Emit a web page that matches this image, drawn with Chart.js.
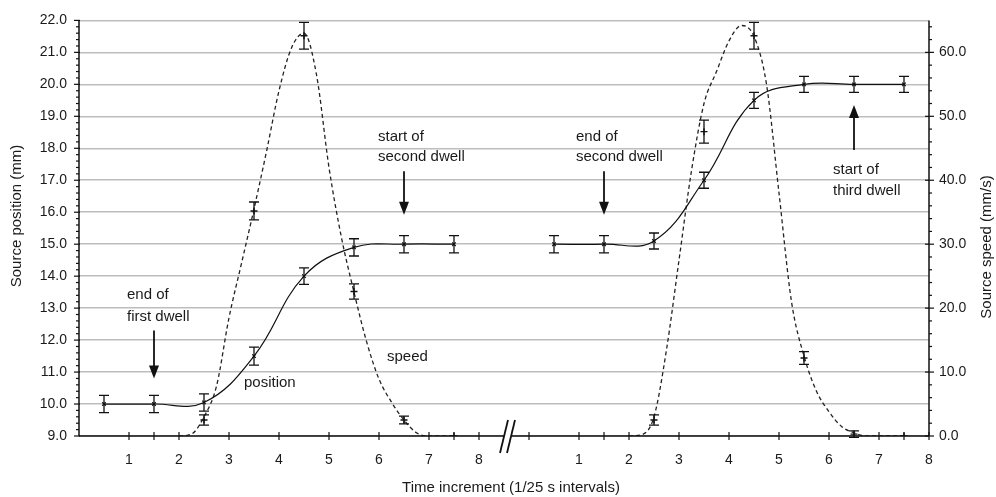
<!DOCTYPE html>
<html lang="en">
<head>
    <meta charset="UTF-8">
    <title>Source position and speed</title>
    <script src="https://cdn.jsdelivr.net/npm/chart.js"></script>
    <style>
        html, body { margin: 0; padding: 0; background: #fff; }
        .chart-box { width: 996px; height: 497px; position: relative; }
    </style>
</head>
<body>
    <div class="chart-box">
        <canvas id="dwellChart"></canvas>
    </div>

    <script>
        // time increments (1/25 s) where the measurements with error bars sit
        const markX = [0.5, 1.5, 2.5, 3.5, 4.5, 5.5, 6.5, 7.5];
        // source position (mm), first and second transit
        const posFirst = [10.0, 10.0, 10.05, 11.5, 14.0, 14.9, 15.0, 15.0];
        const posSecond = [15.0, 15.0, 15.1, 17.0, 19.5, 20.0, 20.0, 20.0];
        const posErrFirst = [0.27, 0.27, 0.27, 0.28, 0.26, 0.27, 0.27, 0.27];
        const posErrSecond = [0.27, 0.27, 0.25, 0.25, 0.25, 0.25, 0.25, 0.25];

        // measured speed (mm/s) with error bars
        const speedMarkX = [2.5, 3.5, 4.5, 5.5, 6.5, 7.5];
        const speedMarkFirst = [2.5, 35.2, 62.6, 22.6, 2.5, 0];
        const speedMarkSecond = [2.5, 47.6, 62.6, 12.2, 0.3, 0];
        const speedErrFirst = [0.8, 1.4, 2.1, 1.2, 0.6, 0];
        const speedErrSecond = [0.8, 1.8, 2.1, 1.0, 0.5, 0];

        // dashed speed curve
        const curveX = [2.0, 2.25, 2.5, 2.75, 3.0, 3.25, 3.5, 3.75, 4.0, 4.25, 4.5, 4.75,
                        5.0, 5.25, 5.5, 5.75, 6.0, 6.25, 6.5, 6.75, 7.0, 7.25, 7.5];
        const speedCurveFirst = [0, 0.3, 3, 7.8, 18.5, 27, 35.5, 44.5, 54, 60.7, 63, 56.5,
                                 42, 31, 22.5, 14.8, 8.9, 5.3, 2.5, 0.5, 0, 0, 0];
        const speedCurveSecond = [0, 0.2, 3, 13.5, 27.5, 41.5, 52, 57, 61.8, 64.2, 62.5, 55,
                                  38, 21, 12.5, 7, 3.8, 1.5, 0.5, 0, 0, 0, 0];

        const xTickLabels = ['1', '2', '3', '4', '5', '6', '7', '8'];

        const panelShift = 9;   // second transit is drawn after the axis break
        const breakAt = 8.5;

        function pts(xs, ys, shift) {
            return xs.map((x, i) => ({ x: x + shift, y: ys[i] }));
        }
        const gap = [{ x: breakAt, y: null }];

        const FONT = "'Liberation Sans', Arial, sans-serif";
        Chart.defaults.font.family = FONT;
        Chart.defaults.font.size = 14;
        Chart.defaults.color = '#1a1a1a';

        function xLabel(v) {
            if (v >= 1 && v <= 8) return xTickLabels[v - 1];
            if (v >= 10 && v <= 17) return xTickLabels[v - 10];
            return '';
        }

        const errorBarPlugin = {
            id: 'errorBars',
            afterDatasetsDraw(chart) {
                const ctx = chart.ctx;
                chart.data.datasets.forEach((ds, di) => {
                    if (!ds.errorBars) return;
                    const meta = chart.getDatasetMeta(di);
                    const yScale = chart.scales[ds.yAxisID];
                    ctx.save();
                    ctx.strokeStyle = '#111';
                    ctx.lineWidth = 1.3;
                    meta.data.forEach((pt, i) => {
                        const err = ds.errorBars[i];
                        const v = ds.data[i].y;
                        if (!err || v === null) return;
                        const top = yScale.getPixelForValue(v + err);
                        const bot = yScale.getPixelForValue(v - err);
                        ctx.beginPath();
                        ctx.moveTo(pt.x, top); ctx.lineTo(pt.x, bot);
                        ctx.moveTo(pt.x - 5, top); ctx.lineTo(pt.x + 5, top);
                        ctx.moveTo(pt.x - 5, bot); ctx.lineTo(pt.x + 5, bot);
                        ctx.stroke();
                    });
                    ctx.restore();
                });
            }
        };

        // notes with arrows, placed in data units (x, left axis)
        const notes = [
            { x: 1.5, dx: -27, lines: ['end of', 'first dwell'], textY: [13.4, 12.72], arrow: [12.3, 10.8] },
            { x: 6.5, dx: -26, lines: ['start of', 'second dwell'], textY: [18.37, 17.72], arrow: [17.28, 15.92] },
            { x: 10.5, dx: -28, lines: ['end of', 'second dwell'], textY: [18.37, 17.72], arrow: [17.28, 15.92] },
            { x: 15.5, dx: -21, lines: ['start of', 'third dwell'], textY: [17.34, 16.66], arrow: [17.95, 19.35] }
        ];

        const decorPlugin = {
            id: 'axesDecor',
            afterDraw(chart) {
                const ctx = chart.ctx;
                const { left, right, top, bottom } = chart.chartArea;
                const xs = chart.scales.x, yl = chart.scales.y, yr = chart.scales.y2;
                const seg = (x1, y1, x2, y2) => { ctx.beginPath(); ctx.moveTo(x1, y1); ctx.lineTo(x2, y2); ctx.stroke(); };

                ctx.save();
                ctx.strokeStyle = '#111';
                ctx.lineWidth = 1.5;
                seg(left, top, left, bottom);
                seg(right, top, right, bottom);
                seg(left, bottom, right, bottom);

                // left axis ticks
                ctx.lineWidth = 1.2;
                for (let k = 0; k <= 65; k++) {
                    const py = yl.getPixelForValue(9 + k / 5);
                    if (k % 5 === 0) seg(left - 5, py, left + 1, py);
                    else seg(left - 3, py, left, py);
                }
                // right axis ticks
                for (let v = 0; v <= 64; v += 2) {
                    const py = yr.getPixelForValue(v);
                    if (v % 10 === 0) seg(right - 4, py, right + 5, py);
                    else seg(right, py, right + 3, py);
                }
                // x ticks crossing the axis
                const tickSpots = [1, 1.5, 2, 3, 4, 5, 6, 7, 7.5, 8];
                tickSpots.concat([0], tickSpots).forEach((v, i) => {
                    const px = xs.getPixelForValue(i > tickSpots.length - 1 ? v + panelShift : v);
                    seg(px, bottom - 4, px, bottom + 4);
                });

                // axis break
                const bx = xs.getPixelForValue(breakAt) + 3;
                ctx.fillStyle = '#fff';
                ctx.beginPath();
                ctx.moveTo(bx - 7, bottom + 17); ctx.lineTo(bx + 1, bottom - 16);
                ctx.lineTo(bx + 8, bottom - 16); ctx.lineTo(bx, bottom + 17);
                ctx.closePath(); ctx.fill();
                ctx.lineWidth = 1.8;
                seg(bx - 7, bottom + 17, bx + 1, bottom - 16);
                seg(bx, bottom + 17, bx + 8, bottom - 16);

                // axis titles
                ctx.fillStyle = '#1a1a1a';
                ctx.font = '15px ' + FONT;
                ctx.textAlign = 'center';
                ctx.textBaseline = 'middle';
                ctx.fillText('Time increment (1/25 s intervals)', 511, 488);
                ctx.save();
                ctx.translate(17, 216); ctx.rotate(-Math.PI / 2);
                ctx.fillText('Source position (mm)', 0, 0);
                ctx.restore();
                ctx.save();
                ctx.translate(987, 247); ctx.rotate(-Math.PI / 2);
                ctx.fillText('Source speed (mm/s)', 0, 0);
                ctx.restore();

                // notes and arrows
                ctx.textAlign = 'left';
                notes.forEach(n => {
                    const ax = xs.getPixelForValue(n.x);
                    n.lines.forEach((t, i) => ctx.fillText(t, ax + n.dx, yl.getPixelForValue(n.textY[i])));
                    const y0 = yl.getPixelForValue(n.arrow[0]);
                    const y1 = yl.getPixelForValue(n.arrow[1]);
                    const dir = y1 > y0 ? 1 : -1;
                    ctx.lineWidth = 1.8;
                    seg(ax, y0, ax, y1 - dir * 10);
                    ctx.fillStyle = '#111';
                    ctx.beginPath();
                    ctx.moveTo(ax, y1);
                    ctx.lineTo(ax - 5, y1 - dir * 13);
                    ctx.lineTo(ax + 5, y1 - dir * 13);
                    ctx.closePath(); ctx.fill();
                    ctx.fillStyle = '#1a1a1a';
                });
                ctx.fillText('speed', xs.getPixelForValue(6.16), yl.getPixelForValue(11.48));
                ctx.fillText('position', xs.getPixelForValue(3.3), yl.getPixelForValue(10.67));
                ctx.restore();
            }
        };

        const ctx = document.getElementById('dwellChart').getContext('2d');
        new Chart(ctx, {
            type: 'line',
            data: {
                datasets: [
                    {
                        label: 'position',
                        data: pts(markX, posFirst, 0).concat(gap, pts(markX, posSecond, panelShift)),
                        errorBars: posErrFirst.concat([0], posErrSecond),
                        yAxisID: 'y',
                        borderColor: '#111',
                        borderWidth: 1.2,
                        tension: 0.4,
                        spanGaps: false,
                        pointStyle: 'crossRot',
                        pointRadius: 2.5,
                        pointBorderColor: '#111',
                        pointBorderWidth: 1.2
                    },
                    {
                        label: 'speed',
                        data: pts(curveX, speedCurveFirst, 0).concat(gap, pts(curveX, speedCurveSecond, panelShift)),
                        yAxisID: 'y2',
                        borderColor: '#222',
                        borderWidth: 1.3,
                        borderDash: [4, 3],
                        cubicInterpolationMode: 'monotone',
                        spanGaps: false,
                        pointRadius: 0
                    },
                    {
                        label: 'speed measured',
                        data: pts(speedMarkX, speedMarkFirst, 0).concat(gap, pts(speedMarkX, speedMarkSecond, panelShift)),
                        errorBars: speedErrFirst.concat([0], speedErrSecond),
                        yAxisID: 'y2',
                        showLine: false,
                        pointStyle: 'cross',
                        pointRadius: 3.5,
                        pointBorderColor: '#111',
                        pointBorderWidth: 1.4
                    }
                ]
            },
            options: {
                responsive: true,
                maintainAspectRatio: false,
                animation: false,
                layout: { padding: { top: 18, left: 0, right: 0, bottom: 0 } },
                plugins: {
                    legend: { display: false },
                    tooltip: { enabled: false }
                },
                scales: {
                    x: {
                        type: 'linear',
                        min: 0,
                        max: 17,
                        grid: { display: false, drawTicks: false },
                        border: { display: false },
                        ticks: { stepSize: 1, padding: 16, maxRotation: 0, autoSkip: false, callback: v => xLabel(v) },
                        afterFit: s => { s.height = 61; }
                    },
                    y: {
                        position: 'left',
                        min: 9,
                        max: 22,
                        grid: { color: '#bdbdbd', lineWidth: 1.5, drawTicks: false },
                        border: { display: false },
                        ticks: { stepSize: 1, padding: 12, callback: v => v.toFixed(1) },
                        afterFit: s => { s.width = 79; }
                    },
                    y2: {
                        position: 'right',
                        min: 0,
                        max: 65,
                        grid: { display: false, drawTicks: false },
                        border: { display: false },
                        ticks: { stepSize: 10, padding: 10, callback: v => (v % 10 === 0 ? v.toFixed(1) : '') },
                        afterFit: s => { s.width = 67; }
                    }
                }
            },
            plugins: [errorBarPlugin, decorPlugin]
        });
    </script>
</body>
</html>
